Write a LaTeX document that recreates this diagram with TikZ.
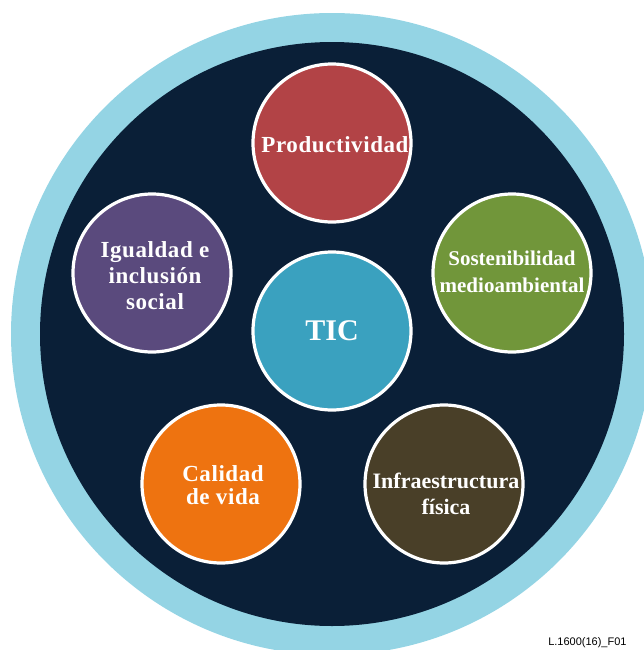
\documentclass[tikz,border=0pt]{standalone}
\usepackage{fontspec}
\setmainfont{Liberation Serif}
\newfontfamily\spacedserif[LetterSpace=2.5]{Liberation Serif}
\newfontfamily\labelsans{Liberation Sans}
\definecolor{ringblue}{HTML}{94D4E4}
\definecolor{navy}{HTML}{0A1F37}
\definecolor{cred}{HTML}{B24346}
\definecolor{cpurple}{HTML}{5A4A7D}
\definecolor{cgreen}{HTML}{71963A}
\definecolor{cteal}{HTML}{3AA1BF}
\definecolor{corange}{HTML}{EE7310}
\definecolor{cbrown}{HTML}{493F28}
\begin{document}
\begin{tikzpicture}[x=0.75pt,y=-0.75pt,
  bubble/.style={circle,draw=white,line width=2.4pt,minimum size=158*0.75pt,inner sep=0pt},
  btext/.style={text=white,align=center,font=\spacedserif\bfseries\fontsize{17.25pt}{19.5pt}\selectfont},
  btextplain/.style={text=white,align=center,font=\bfseries\fontsize{15.75pt}{20pt}\selectfont}]
\useasboundingbox (0,0) rectangle (643,650);
\fill[ringblue] (332,334) circle[radius=321*0.75pt];
\fill[navy] (332,334) circle[radius=292*0.75pt];
\node[bubble,fill=cred] (prod) at (332,143) {};
\node[bubble,fill=cteal] (tic) at (332,331) {};
\node[bubble,fill=cpurple] (igual) at (152,273) {};
\node[bubble,fill=cgreen] (sost) at (512,273) {};
\node[bubble,fill=corange] (cal) at (221,484) {};
\node[bubble,fill=cbrown] (infra) at (444,484) {};
\node[btext] (tprod) at (335,145) {Productividad};
\node[text=white,font=\bfseries\fontsize{22.5pt}{26pt}\selectfont] (ttic) at (332,331) {TIC};
\node[btext] (tigual) at (155,276) {Igualdad e\\inclusión\\social};
\node[btextplain] (tsost) at (512,272) {Sostenibilidad\\medioambiental};
\node[btext,font=\spacedserif\bfseries\fontsize{17.25pt}{17.5pt}\selectfont] (tcal) at (223,485) {Calidad\\de vida};
\node[btextplain,font=\bfseries\fontsize{16.5pt}{19.5pt}\selectfont] (tinfra) at (446,494) {Infraestructura\\física};
\node[anchor=base west,inner sep=0pt,font=\labelsans\fontsize{8.25pt}{10pt}\selectfont] (fig) at (548,645) {L.1600(16)\_F01};
\end{tikzpicture}
\end{document}
